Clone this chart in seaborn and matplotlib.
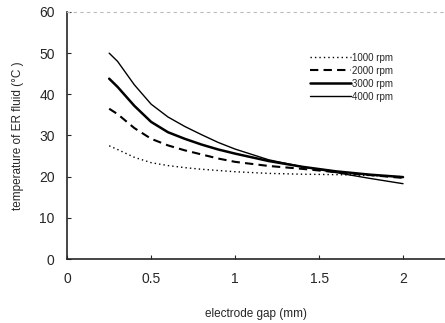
#Importing libraries
import pandas as pd
import matplotlib
matplotlib.use("Agg")
import matplotlib.pyplot as plt
import seaborn as sns

#Data
Gap = [0.25, 0.3, 0.4, 0.5, 0.6, 0.7, 0.8, 0.9, 1.0, 1.2, 1.4, 1.6, 1.8, 2.0]
Temp1000 = [27.5, 26.6, 24.7, 23.4, 22.7, 22.2, 21.8, 21.5, 21.2, 20.8, 20.6, 20.5, 20.3, 20.0]
Temp2000 = [36.5, 35.2, 31.8, 29.2, 27.6, 26.4, 25.4, 24.4, 23.6, 22.6, 21.9, 21.1, 20.4, 19.7]
Temp3000 = [43.8, 41.8, 37.2, 33.3, 30.8, 29.2, 27.8, 26.6, 25.6, 23.8, 22.4, 21.3, 20.5, 19.9]
Temp4000 = [50.0, 48.0, 42.3, 37.6, 34.5, 32.2, 30.2, 28.3, 26.7, 24.1, 22.4, 21.0, 19.6, 18.3]
Labels = ["1000 rpm", "2000 rpm", "3000 rpm", "4000 rpm"]

#Building a long table for seaborn
Series = [Temp1000, Temp2000, Temp3000, Temp4000]
DataFrame = pd.concat([pd.DataFrame({"gap": Gap, "temp": s, "speed": l}) for s, l in zip(Series, Labels)])

sns.set_style("ticks")
plt.rcParams["font.family"] = ["Liberation Sans", "DejaVu Sans"]

fig = plt.figure(figsize=(4.45, 3.23), dpi=100)
ax = fig.add_axes([0.151, 0.198, 0.849, 0.765])

Styles = {"1000 rpm": (0, (1, 2.2)), "2000 rpm": (0, (4, 2.5)), "3000 rpm": "-", "4000 rpm": "-"}
Widths = {"1000 rpm": 1.0, "2000 rpm": 1.5, "3000 rpm": 1.8, "4000 rpm": 1.0}
for label in Labels:
    sns.lineplot(data=DataFrame[DataFrame["speed"] == label], x="gap", y="temp", color="black",
                 linestyle=Styles[label], linewidth=Widths[label], label=label, ax=ax)

ax.set_xlim(0, 2.25)
ax.set_ylim(0, 60)
ax.set_xticks([0, 0.5, 1, 1.5, 2])
ax.set_xticklabels(["0", "0.5", "1", "1.5", "2"])
ax.set_yticks([0, 10, 20, 30, 40, 50, 60])
ax.tick_params(direction="in", length=3, labelsize=10, pad=9)
ax.set_xlabel("electrode gap (mm)", fontsize=8.5, labelpad=16)
ax.set_ylabel("temperature of ER fluid (°C )", fontsize=8.5, labelpad=11)

ax.spines["right"].set_visible(False)
ax.spines["top"].set_linestyle((0, (2, 4)))
ax.spines["top"].set_color("#bbbbbb")
ax.spines["left"].set_linewidth(1.2)
ax.spines["bottom"].set_linewidth(1.2)

ax.legend(loc="upper left", bbox_to_anchor=(0.62, 0.87), frameon=False, fontsize=7,
          handlelength=4.2, handletextpad=0.1, labelspacing=0.3)

fig.savefig("out.png", dpi=100)
